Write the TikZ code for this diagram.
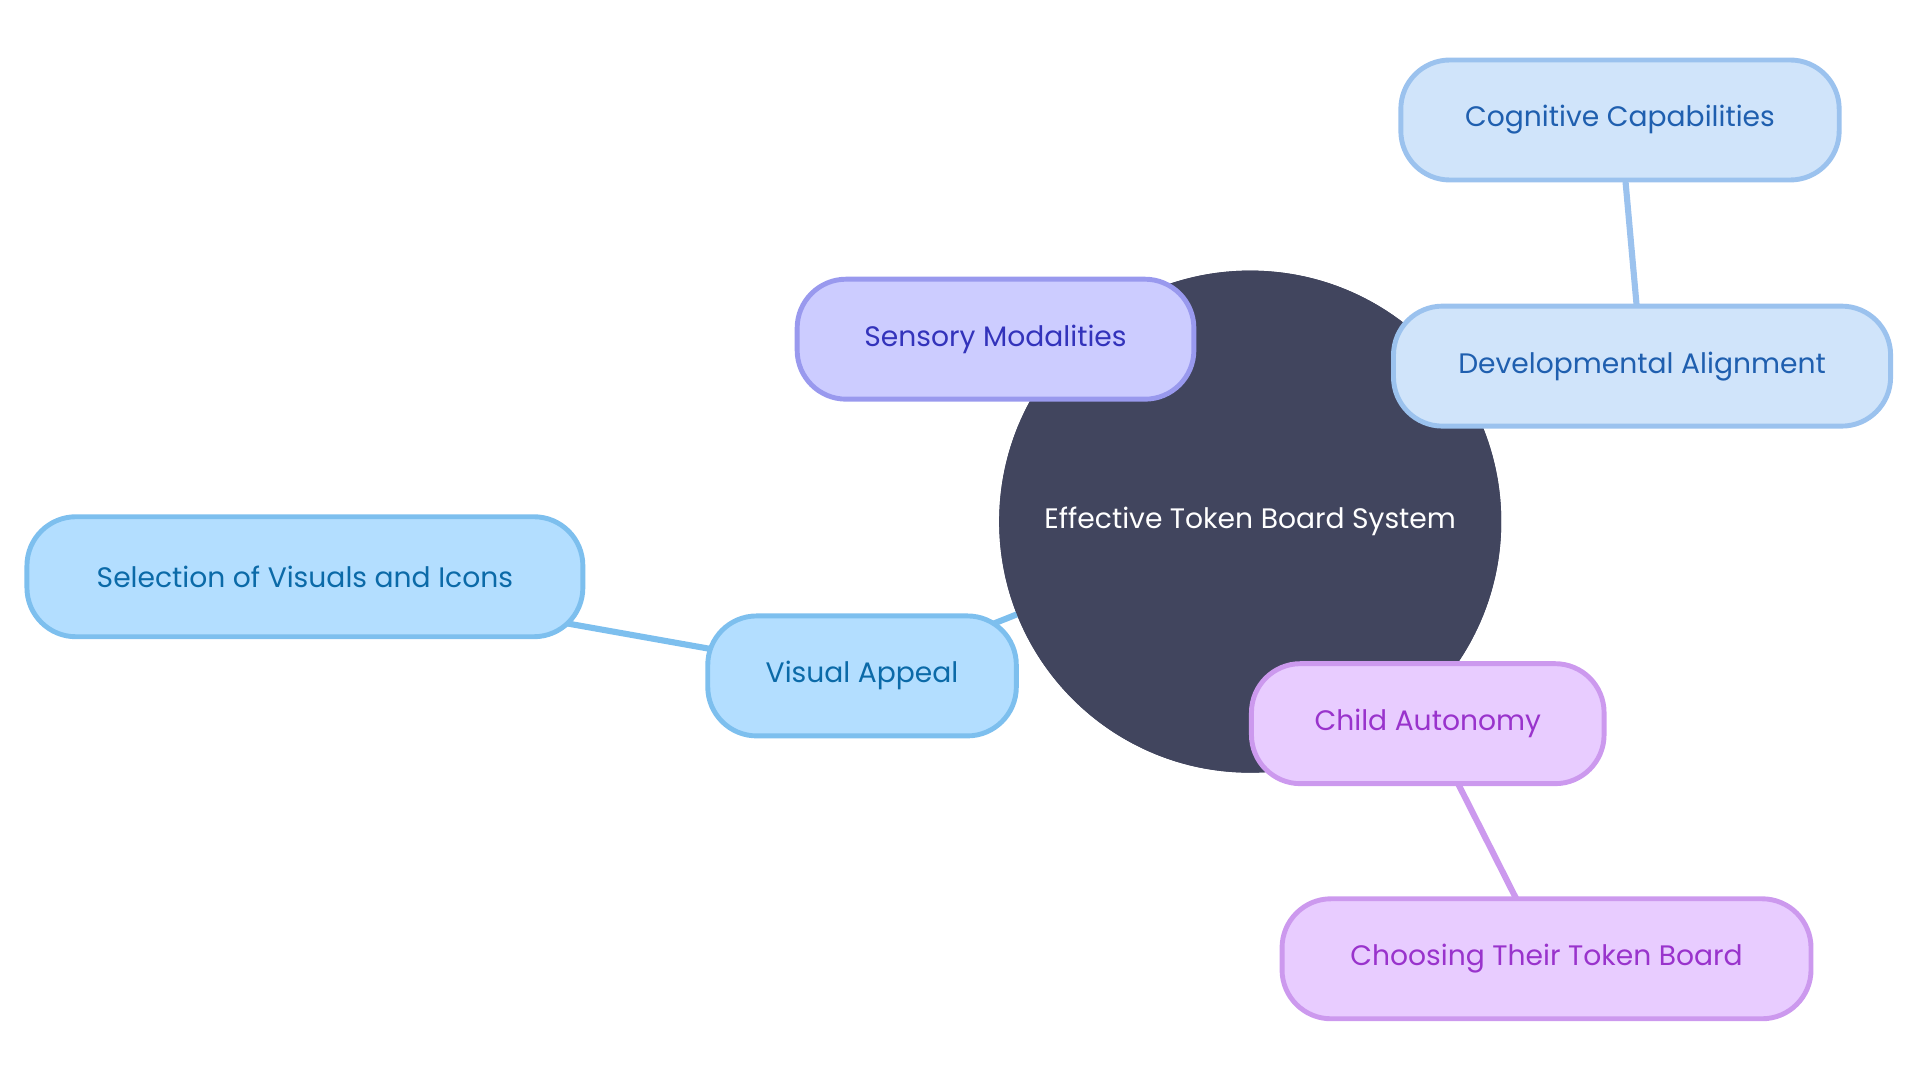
\documentclass[tikz,border=0pt]{standalone}
\usepackage{fontspec}
\setmainfont{Poppins}
\begin{document}
\begin{tikzpicture}[x=0.5pt,y=-0.5pt,
  box/.style={draw,line width=2pt,rounded corners=20pt,minimum height=49pt,inner sep=0pt,font=\fontsize{11.5}{13}\selectfont},
  blue/.style={box,fill={rgb,255:red,179;green,222;blue,255},draw={rgb,255:red,125;green,191;blue,238},text={rgb,255:red,11;green,106;blue,168}},
  lblue/.style={box,fill={rgb,255:red,208;green,228;blue,250},draw={rgb,255:red,155;green,194;blue,238},text={rgb,255:red,31;green,95;blue,175}},
  purp/.style={box,fill={rgb,255:red,204;green,204;blue,255},draw={rgb,255:red,153;green,153;blue,238},text={rgb,255:red,51;green,51;blue,187}},
  viol/.style={box,fill={rgb,255:red,232;green,204;blue,255},draw={rgb,255:red,204;green,153;blue,238},text={rgb,255:red,153;green,51;blue,204}},
  edge/.style={line width=2.5pt}]
\useasboundingbox (0,0) rectangle (1568,882);
\node[circle,fill={rgb,255:red,65;green,69;blue,94},minimum size=205pt,inner sep=0pt,text=white,font=\fontsize{11.5}{13}\selectfont] (c) at (1021,426) {Effective Token Board System};
\coordinate (sm) at (813,277);
\coordinate (da) at (1341,299);
\coordinate (cc) at (1323,98);
\coordinate (va) at (704,552);
\coordinate (sv) at (249,471);
\coordinate (ca) at (1166,591);
\coordinate (ct) at (1263,783);
\draw[edge,draw={rgb,255:red,125;green,191;blue,238}] (c.center) -- (va) -- (sv);
\draw[edge,draw={rgb,255:red,155;green,194;blue,238}] (da) -- (cc);
\draw[edge,draw={rgb,255:red,204;green,153;blue,238}] (ca) -- (ct);
\node[circle,fill={rgb,255:red,65;green,69;blue,94},minimum size=205pt,inner sep=0pt,text=white,font=\fontsize{11.5}{13}\selectfont] at (1021,426) {Effective Token Board System};
\node[purp,minimum width=162pt] (n1) at (sm) {Sensory Modalities};
\node[lblue,minimum width=203pt] (n2) at (da) {Developmental Alignment};
\node[lblue,minimum width=179pt] (n3) at (cc) {Cognitive Capabilities};
\node[blue,minimum width=126pt] (n4) at (va) {Visual Appeal};
\node[blue,minimum width=227pt] (n5) at (sv) {Selection of Visuals and Icons};
\node[viol,minimum width=144pt] (n6) at (ca) {Child Autonomy};
\node[viol,minimum width=216pt] (n7) at (ct) {Choosing Their Token Board};
\end{tikzpicture}
\end{document}
